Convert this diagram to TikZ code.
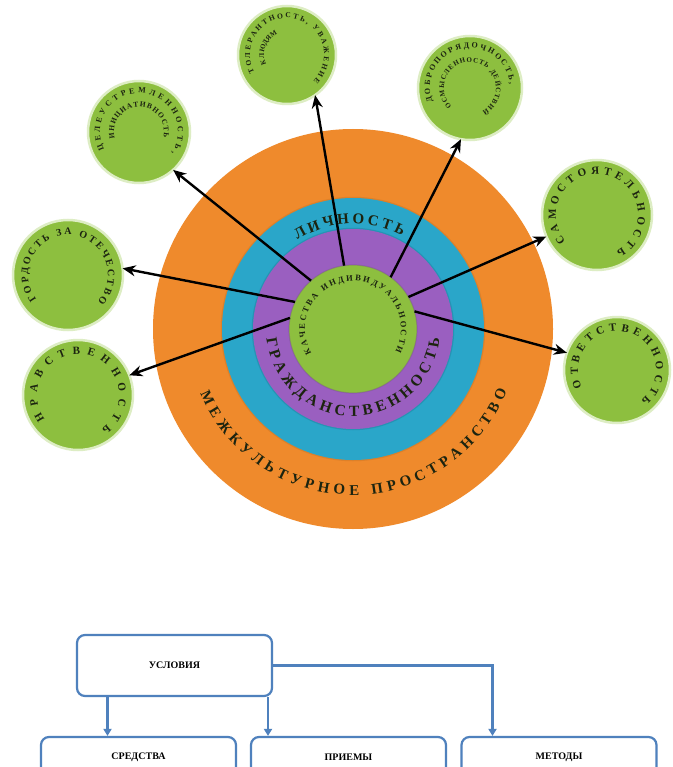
\documentclass[tikz,border=0pt]{standalone}
\usepackage{fontspec}
\setmainfont{Liberation Serif}
\usetikzlibrary{decorations.text,arrows.meta,calc}
\definecolor{orng}{HTML}{EF8A2C}
\definecolor{cyn}{HTML}{2AA6C9}
\definecolor{prp}{HTML}{9A5FC0}
\definecolor{grn}{HTML}{8DBF3F}
\definecolor{grnrim}{HTML}{DDEDC4}
\definecolor{ink}{HTML}{1C2410}
\definecolor{bblue}{HTML}{4F81BD}
\newcommand\ArcText[7]{%
  \begingroup\fontsize{#5}{#5}\selectfont\bfseries
  \path[decorate,decoration={text along path,text align={fit to path},text color=#7,
    text={#6}}]
    (#1) ++(#3:#2) arc[start angle=#3,end angle=#4,radius=#2];\endgroup}
\tikzset{
  smc/.style={circle,fill=grn,draw=grnrim,line width=2.5pt,minimum size=#1,inner sep=0pt,outer sep=0pt},
  arr/.style={line width=2.4pt,-{Stealth[length=13pt,width=11pt]},draw=black},
  fbox/.style={draw=bblue,line width=2.2pt,rounded corners=8pt,fill=white,minimum width=195pt,
    minimum height=#1,inner sep=0pt,font=\bfseries\fontsize{10}{10}\selectfont},
  barr/.style={draw=bblue,line width=2.2pt,-{Triangle[length=7pt,width=8pt]}}
}
\begin{document}
\begin{tikzpicture}[x=1pt,y=1pt]
\useasboundingbox (0,0) rectangle (672,-767);
\clip (0,0) rectangle (672,-767);
\fill[white] (0,0) rectangle (672,-767);
% rings
\coordinate (C) at (353,-329);
\fill[orng] (C) circle (200);
\draw[orng!80!black,opacity=0.35,line width=1.5pt] (C) circle (131.5);
\fill[cyn] (C) circle (131);
\draw[cyn!70!black,opacity=0.35,line width=1.5pt] (C) circle (100.5);
\fill[prp] (C) circle (100);
\node[circle,fill=grn,draw=prp!75!black,draw opacity=0.35,line width=1.2pt,minimum size=128pt,inner sep=0pt,outer sep=0pt] (g) at (C) {};
\ArcText{C}{105}{122}{62}{15}{ЛИЧНОСТЬ}{ink}
\ArcText{C}{87}{186}{354}{15.5}{ГРАЖДАНСТВЕННОСТЬ}{ink}
\ArcText{C}{166}{203}{338}{15}{МЕЖКУЛЬТУРНОЕ ПРОСТРАНСТВО}{ink}
\ArcText{C}{48}{210}{-28}{8.5}{КАЧЕСТВА ИНДИВИДУАЛЬНОСТИ}{ink}
% small circles
\node[smc=98pt]  (c1) at (287,-55) {};
\node[smc=104pt] (c2) at (470,-88) {};
\node[smc=102pt] (c3) at (139,-132) {};
\node[smc=110pt] (c4) at (68,-275) {};
\node[smc=110pt] (c5) at (78,-395) {};
\node[smc=110pt] (c6) at (597,-215) {};
\node[smc=106pt] (c7) at (617,-370) {};
\ArcText{c1}{37}{208}{-45}{7.5}{ТОЛЕРАНТНОСТЬ, УВАЖЕНИЕ}{ink}
\ArcText{c1}{23}{205}{115}{7}{К ЛЮДЯМ}{ink}
\ArcText{c2}{40}{200}{5}{8}{ДОБРОПОРЯДОЧНОСТЬ,}{ink}
\ArcText{c2}{26}{225}{-62}{7}{ОСМЫСЛЕННОСТЬ ДЕЙСТВИЙ}{ink}
\ArcText{c3}{39}{207}{-33}{8}{ЦЕЛЕУСТРЕМЛЕННОСТЬ,}{ink}
\ArcText{c3}{25}{195}{-12}{7.5}{ИНИЦИАТИВНОСТЬ}{ink}
\ArcText{c4}{40}{218}{-42}{10}{ГОРДОСТЬ ЗА ОТЕЧЕСТВО}{ink}
\ArcText{c5}{41}{216}{-55}{11}{НРАВСТВЕННОСТЬ}{ink}
\ArcText{c6}{41}{220}{-62}{11}{САМОСТОЯТЕЛЬНОСТЬ}{ink}
\ArcText{c7}{39}{206}{-52}{11}{ОТВЕТСТВЕННОСТЬ}{ink}
% arrows
\draw[arr] (g.98)  -- (c1.-55);
\draw[arr] (g.54)  -- (c2.-100);
\draw[arr] (g.131) -- (c3.-48);
\draw[arr] (g.155) -- (c4.7);
\draw[arr] (g.170) -- (c5.21);
\draw[arr] (g.30)  -- (c6.203);
\draw[arr] (g.16)  -- (c7.161);
% flowchart
\node[fbox=61pt] (u) at (174.5,-665.5) {УСЛОВИЯ};
\node[fbox=40pt] (s) at (138.5,-757) {СРЕДСТВА};
\node[fbox=40pt] (p) at (348.5,-757) {ПРИЕМЫ};
\node[fbox=40pt] (m) at (559,-757) {МЕТОДЫ};
\draw[barr] ([xshift=-67pt]u.south) -- ([xshift=-67pt]u.south |- s.north);
\draw[barr] ([xshift=93.5pt]u.south) -- ([xshift=93.5pt]u.south |- p.north);
\draw[barr] (u.east) -| ([xshift=-66.5pt]m.north);
\end{tikzpicture}
\end{document}
